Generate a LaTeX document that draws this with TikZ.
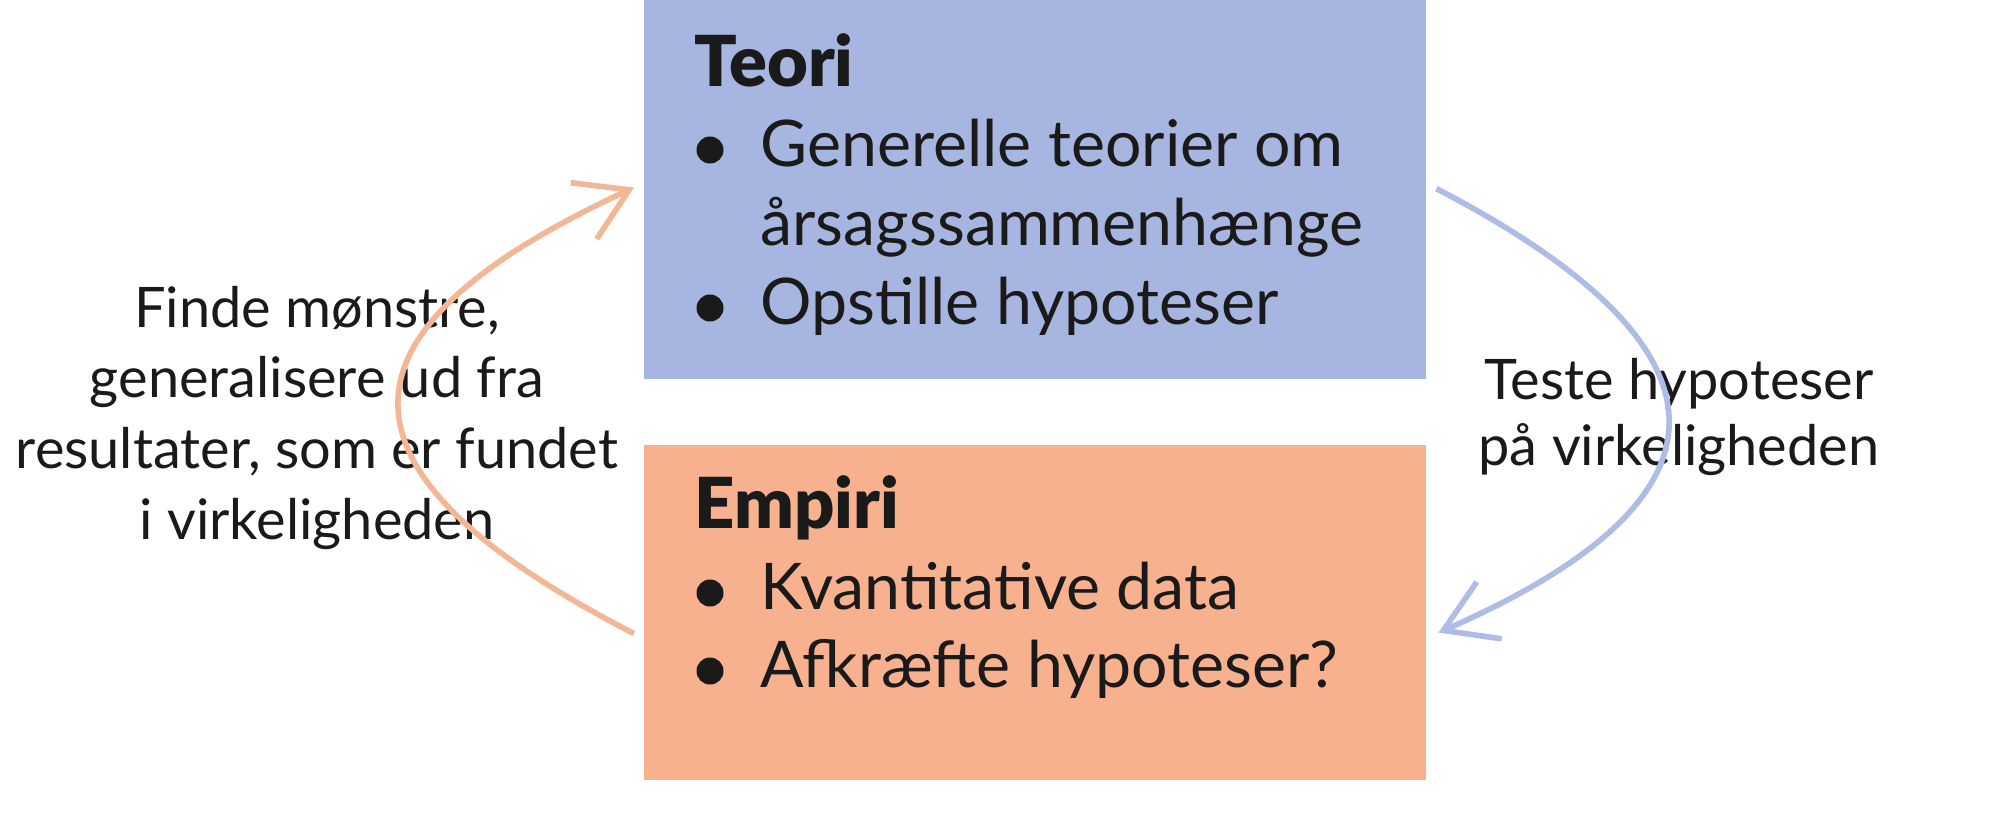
\documentclass[tikz,border=0pt]{standalone}
\usepackage{fontspec}
\setmainfont{Lato}
\newfontfamily\heavyfont{Lato Black}
\usetikzlibrary{arrows.meta}
\definecolor{teoriblue}{RGB}{167,182,224}
\definecolor{empiriorange}{RGB}{247,177,143}
\definecolor{arroworange}{RGB}{244,183,150}
\definecolor{arrowblue}{RGB}{174,188,230}
\definecolor{ink}{RGB}{26,26,26}
\tikzset{
  boxshape/.style={rectangle, inner sep=0pt, outer sep=0pt, anchor=north west},
  head/.style={anchor=base west, inner sep=0pt, text=ink, font=\heavyfont\fontsize{20pt}{23pt}\selectfont},
  item/.style={anchor=base west, inner sep=0pt, text=ink, font=\fontsize{18.3pt}{21pt}\selectfont},
  dot/.style={circle, fill=ink, minimum size=0.27cm, inner sep=0pt},
  lbl/.style={anchor=base, inner sep=0pt, text=ink, font=\fontsize{15.9pt}{19pt}\selectfont},
  oarrow/.style={draw=arroworange, line width=1.6pt, -{Straight Barb[length=0.5cm, width=0.62cm]}},
  barrow/.style={draw=arrowblue, line width=1.6pt, -{Straight Barb[length=0.5cm, width=0.62cm]}}
}
\begin{document}
\begin{tikzpicture}[x=0.01cm, y=-0.01cm]
\path[use as bounding box, fill=white] (0,0) rectangle (2000,821);
% boxes
\node[boxshape, fill=teoriblue, minimum width=7.82cm, minimum height=3.79cm] (teori) at (644,0) {};
\node[boxshape, fill=empiriorange, minimum width=7.82cm, minimum height=3.35cm] (empiri) at (644,445) {};
% Teori text
\node[head] (th) at (694,87) {Teori};
\node[dot] (tb1) at (710,150) {};
\node[item] (t1) at (760,166) {Generelle teorier om};
\node[item] (t2) at (760,245) {årsagssammenhænge};
\node[dot] (tb2) at (710,308) {};
\node[item] (t3) at (760,324) {Opstille hypoteser};
% Empiri text
\node[head] (eh) at (694,528) {Empiri};
\node[dot] (eb1) at (710,593) {};
\node[item] (e1) at (760,609) {Kvantitative data};
\node[dot] (eb2) at (710,671) {};
\node[item] (e2) at (760,687) {Afkræfte hypoteser?};
% left label
\node[lbl] (l1) at (317,327) {Finde mønstre,};
\node[lbl] (l2) at (317,397) {generalisere ud fra};
\node[lbl] (l3) at (317,468) {resultater, som er fundet};
\node[lbl] (l4) at (317,539) {i virkeligheden};
% right label
\node[lbl] (r1) at (1679,399) {Teste hypoteser};
\node[lbl] (r2) at (1679,465) {på virkeligheden};
% arrows
\draw[oarrow] ([shift={(-10,21)}]empiri.west) .. controls (326,475) and (315,335) .. ([shift={(-10,-2)}]teori.west);
\draw[barrow] ([shift={(10,-1)}]teori.east) .. controls (1737,345) and (1753,495) .. ([shift={(12,20)}]empiri.east);
\end{tikzpicture}
\end{document}
